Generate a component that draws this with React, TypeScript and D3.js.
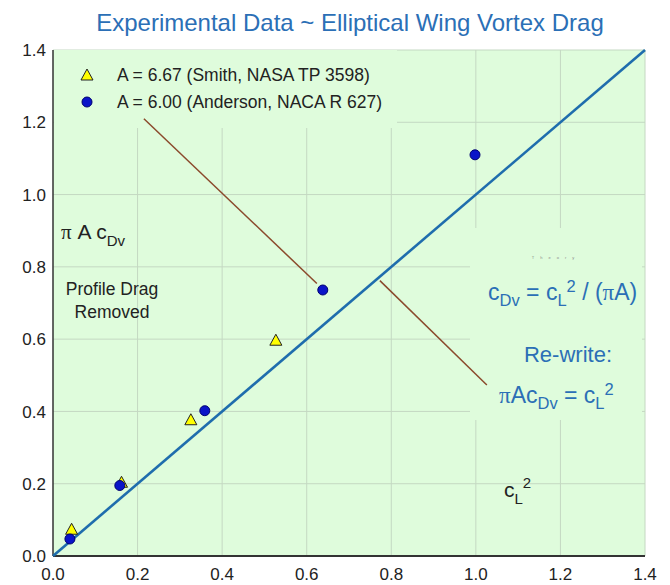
import React from 'react';
import * as d3 from 'd3';

// ---- data ----
const title = 'Experimental Data ~ Elliptical Wing Vortex Drag';
const tickValues = [0, 0.2, 0.4, 0.6, 0.8, 1.0, 1.2, 1.4];
const smithCl2 = [0.044, 0.162, 0.326, 0.527];
const smithPiACdv = [0.074, 0.204, 0.377, 0.597];
const andersonCl2 = [0.04, 0.158, 0.359, 0.638, 0.998];
const andersonPiACdv = [0.047, 0.195, 0.402, 0.736, 1.11];
const theoryCl2 = [0, 1.4];
const theoryPiACdv = [0, 1.4];
const legendLabels = ['A = 6.67 (Smith, NASA TP 3598)', 'A = 6.00 (Anderson, NACA R 627)'];
// leader lines (in data units)
const leader1 = [[0.215, 1.21], [0.624, 0.754]];
const leader2 = [[0.773, 0.762], [1.026, 0.473]];

const BG = '#dffcdc';
const GRID = '#c4d8c2';
const BLUE_TXT = '#2b6fb6';
const LINE_BLUE = '#1f6dad';
const BROWN = '#8b4a2c';
const FONT = "'Liberation Sans', Arial, sans-serif";
const SERIF = "'Liberation Serif', 'Times New Roman', serif";

export default function App() {
  const W = 670, H = 585;
  const x = d3.scaleLinear().domain([0, 1.4]).range([53, 645]);
  const y = d3.scaleLinear().domain([0, 1.4]).range([556, 50]);
  const line = d3.line<number[]>().x(d => x(d[0])).y(d => y(d[1]));
  const theoryPts = theoryCl2.map((v, i) => [v, theoryPiACdv[i]]);
  const tri = (cx: number, cy: number) =>
    `M${cx},${cy - 6}L${cx + 6},${cy + 5}L${cx - 6},${cy + 5}Z`;
  const fmt = d3.format('.1f');

  return (
    <svg width={W} height={H} style={{ position: 'absolute', left: 0, top: 0, background: '#fff' }}
      fontFamily={FONT}>
      <rect x={0} y={0} width={W} height={H} fill="#fff" />
      <text x={350} y={31} textAnchor="middle" fontSize={24} fill={BLUE_TXT}>{title}</text>

      {/* plot background */}
      <rect x={x(0)} y={y(1.4)} width={x(1.4) - x(0)} height={y(0) - y(1.4)} fill={BG} />
      {/* grid */}
      {tickValues.slice(1).map(t => (
        <line key={'gx' + t} x1={x(t)} x2={x(t)} y1={y(0)} y2={y(1.4)} stroke={GRID} strokeWidth={1} />
      ))}
      {tickValues.slice(1).map(t => (
        <line key={'gy' + t} x1={x(0)} x2={x(1.4)} y1={y(t)} y2={y(t)} stroke={GRID} strokeWidth={1} />
      ))}
      {/* boxes hiding grid behind text */}
      <rect x={x(0) + 1} y={y(1.4)} width={397 - x(0) - 1} height={128 - y(1.4)} fill={BG} />
      <rect x={470} y={228} width={172} height={192} fill={BG} />

      {/* axes */}
      <line x1={x(0)} x2={x(0)} y1={y(1.4)} y2={y(0)} stroke="#333" strokeWidth={1.5} />
      <line x1={x(0)} x2={x(1.4)} y1={y(0)} y2={y(0)} stroke="#333" strokeWidth={2} />
      {tickValues.map(t => (
        <text key={'yl' + t} x={46} y={y(t)} dy="0.36em" textAnchor="end" fontSize={17} fill="#222">{fmt(t)}</text>
      ))}
      {tickValues.map(t => (
        <text key={'xl' + t} x={x(t)} y={580} textAnchor="middle" fontSize={17} fill="#222">{fmt(t)}</text>
      ))}

      {/* leader lines */}
      <path d={line(leader1) || ''} stroke={BROWN} strokeWidth={1.5} fill="none" />
      <path d={line(leader2) || ''} stroke={BROWN} strokeWidth={1.5} fill="none" />

      {/* theory line */}
      <path d={line(theoryPts) || ''} stroke={LINE_BLUE} strokeWidth={2.6} fill="none" />

      {/* markers */}
      {smithCl2.map((v, i) => (
        <path key={'s' + i} d={tri(x(v), y(smithPiACdv[i]))} fill="#ffff00" stroke="#222" strokeWidth={1} />
      ))}
      {andersonCl2.map((v, i) => (
        <circle key={'a' + i} cx={x(v)} cy={y(andersonPiACdv[i])} r={5} fill="#0a14c8" stroke="#000070" strokeWidth={1} />
      ))}

      {/* legend */}
      <path d={tri(87, 75)} fill="#ffff00" stroke="#222" strokeWidth={1} />
      <circle cx={87} cy={102} r={5} fill="#0a14c8" stroke="#000070" strokeWidth={1} />
      <text x={117} y={81} fontSize={17.5} fill="#222">{legendLabels[0]}</text>
      <text x={117} y={108} fontSize={17.5} fill="#222">{legendLabels[1]}</text>

      {/* y label */}
      <text x={61} y={239} fontSize={21} fill="#222">
        <tspan fontFamily={SERIF}>π</tspan>
        <tspan> A c</tspan>
        <tspan fontSize={15} dy={7}>Dv</tspan>
      </text>
      <text x={112} y={295} fontSize={17.5} fill="#222" textAnchor="middle">Profile Drag</text>
      <text x={112} y={318} fontSize={17.5} fill="#222" textAnchor="middle">Removed</text>

      {/* theory text */}
      <text x={556} y={259} fontSize={4} fill="#8a8a8a" textAnchor="middle" letterSpacing={6}>Theory</text>
      <text x={488} y={300} fontSize={23} fill={BLUE_TXT}>
        <tspan>c</tspan>
        <tspan fontSize={16.5} dy={6}>Dv</tspan>
        <tspan dy={-6}> = c</tspan>
        <tspan fontSize={16.5} dy={6}>L</tspan>
        <tspan fontSize={16.5} dy={-14}>2</tspan>
        <tspan dy={8}> / (</tspan>
        <tspan fontFamily={SERIF}>π</tspan>
        <tspan>A)</tspan>
      </text>
      <text x={568} y={362} fontSize={22} fill={BLUE_TXT} textAnchor="middle">Re-write:</text>
      <text x={499} y={403} fontSize={23} fill={BLUE_TXT}>
        <tspan fontFamily={SERIF}>π</tspan>
        <tspan>Ac</tspan>
        <tspan fontSize={16.5} dy={6}>Dv</tspan>
        <tspan dy={-6}> = c</tspan>
        <tspan fontSize={16.5} dy={6}>L</tspan>
        <tspan fontSize={16.5} dy={-14}>2</tspan>
      </text>

      {/* x label */}
      <text x={504} y={497} fontSize={21} fill="#222">
        <tspan>c</tspan>
        <tspan fontSize={15} dy={7}>L</tspan>
        <tspan fontSize={15} dy={-16}>2</tspan>
      </text>
    </svg>
  );
}
